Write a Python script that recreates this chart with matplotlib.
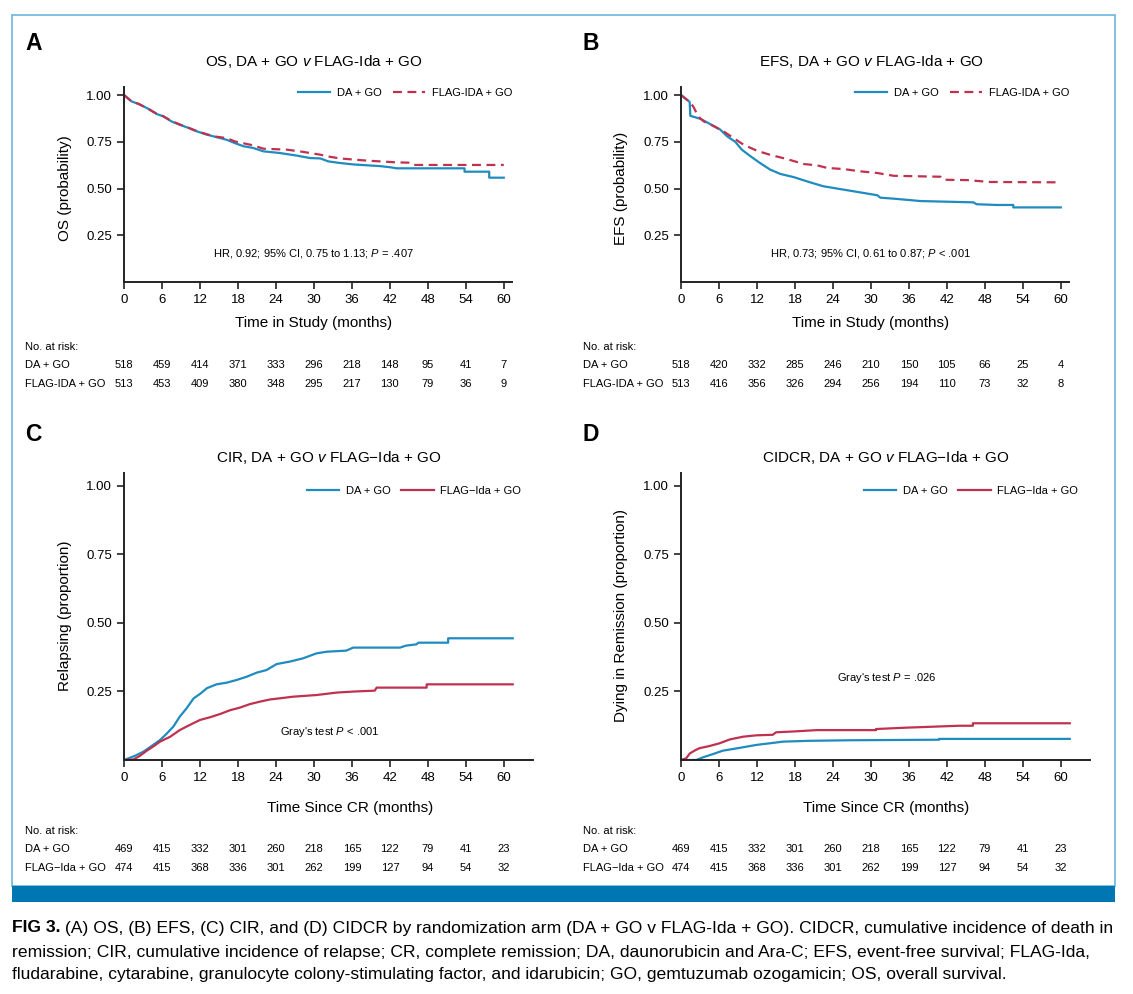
import matplotlib
matplotlib.use("Agg")
import matplotlib.pyplot as plt
from matplotlib.patches import Rectangle
from matplotlib.lines import Line2D
from matplotlib.transforms import blended_transform_factory

W, H = 1133, 994
BLUE = "#1f8bbf"
RED = "#c0314f"

plt.rcParams['font.family'] = ['Liberation Sans', 'DejaVu Sans']
plt.rcParams['mathtext.fontset'] = 'custom'
plt.rcParams['mathtext.rm'] = 'Liberation Sans'
plt.rcParams['mathtext.it'] = 'Liberation Sans:italic'

# ---- data (curve vertices: month, value) ----
months = [0, 6, 12, 18, 24, 30, 36, 42, 48, 54, 60]

# A: overall survival
os_da_t = [0, 1.2, 2.3, 3.05, 4.1, 5.2, 6.2, 7.5, 8.8, 10.2, 11.5, 13.1, 14.6, 16.2, 17.5, 18.9, 20.4, 22.0,
           24.6, 27.3, 29.4, 31.0, 32.3, 34, 36.2, 38, 40.4, 42, 43.1, 53.8, 53.8, 57.7, 57.7, 60]
os_da_s = [1.0, 0.966, 0.952, 0.94, 0.922, 0.898, 0.886, 0.859, 0.841, 0.824, 0.806, 0.788, 0.775, 0.761,
           0.743, 0.726, 0.717, 0.699, 0.69, 0.676, 0.663, 0.661, 0.645, 0.637, 0.629, 0.625, 0.620, 0.614,
           0.608, 0.608, 0.590, 0.590, 0.558, 0.558]
os_fl_t = [0, 1.2, 2.3, 3.05, 4.1, 5.2, 6.2, 7.5, 8.8, 10.2, 11.5, 13.1, 14.6, 16.2, 17.5, 20.4, 22.0, 25.7,
           28.3, 31, 32.5, 34.1, 37.3, 39, 41.5, 43, 45.2, 45.7, 60]
os_fl_s = [1.0, 0.966, 0.953, 0.94, 0.92, 0.899, 0.887, 0.861, 0.843, 0.825, 0.807, 0.79, 0.777, 0.77, 0.752,
           0.731, 0.713, 0.708, 0.696, 0.681, 0.670, 0.661, 0.652, 0.648, 0.643, 0.640, 0.638, 0.626, 0.626]

# B: event-free survival
efs_da_t = [0, 1.37, 1.47, 3.05, 4.6, 6.2, 7.3, 8.6, 9.6, 11, 12.5, 14.1, 15.7, 17.8, 20.4, 22.5, 25.7, 28.9,
            31, 31.5, 33.5, 36.2, 37.8, 46.2, 46.7, 49.9, 52.5, 52.5, 60]
efs_da_s = [1.0, 0.963, 0.889, 0.873, 0.845, 0.815, 0.779, 0.749, 0.708, 0.672, 0.636, 0.601, 0.578, 0.561,
            0.533, 0.512, 0.494, 0.476, 0.464, 0.451, 0.446, 0.438, 0.433, 0.426, 0.416, 0.412, 0.412, 0.399,
            0.399]
efs_fl_t = [0, 1.4, 2.0, 2.5, 3.0, 3.6, 5.2, 6.7, 8.3, 9.9, 12, 14.1, 16.7, 19.4, 21.5, 23.1, 25.7, 28.3, 31,
            33.6, 41, 41.5, 45.2, 48.8, 60]
efs_fl_s = [1.0, 0.963, 0.935, 0.90, 0.876, 0.859, 0.833, 0.806, 0.77, 0.734, 0.702, 0.68, 0.658, 0.631,
            0.624, 0.61, 0.604, 0.592, 0.583, 0.568, 0.563, 0.547, 0.545, 0.535, 0.533]

# C: cumulative incidence of relapse
cir_da_t = [0, 0.7, 1.7, 3.05, 4.6, 5.7, 6.7, 7.8, 8.8, 9.9, 11, 12, 13.1, 14.6, 16.2, 17.8, 19.4, 21, 22.5,
            24.1, 26.2, 28.3, 30.4, 32, 35.1, 36.2, 43.6, 44.5, 46.2, 46.5, 51.2, 51.2, 61.4]
cir_da_s = [0, 0.006, 0.015, 0.03, 0.055, 0.073, 0.095, 0.122, 0.158, 0.189, 0.225, 0.241, 0.262, 0.276,
            0.282, 0.292, 0.304, 0.319, 0.328, 0.350, 0.359, 0.371, 0.389, 0.395, 0.399, 0.410, 0.410, 0.417,
            0.422, 0.428, 0.428, 0.444, 0.444]
cir_fl_t = [0, 1.5, 2.5, 3.6, 4.6, 5.7, 7.3, 8.8, 10.4, 12, 13.6, 15.2, 16.8, 18.3, 19.9, 21.5, 23.1, 24.6,
            26.7, 30.4, 33.6, 36.5, 39.6, 39.9, 47.8, 47.8, 61.4]
cir_fl_s = [0, 0.002, 0.015, 0.034, 0.049, 0.067, 0.085, 0.109, 0.128, 0.146, 0.156, 0.168, 0.182, 0.191,
            0.204, 0.213, 0.221, 0.225, 0.231, 0.237, 0.246, 0.250, 0.253, 0.264, 0.264, 0.276, 0.276]

# D: cumulative incidence of death in remission
cidcr_da_t = [0, 2.4, 3.5, 5.1, 6.6, 8.7, 11.9, 15.1, 16.1, 20.3, 26.6, 40.8, 40.8, 61.4]
cidcr_da_s = [0, 0.0, 0.010, 0.022, 0.034, 0.042, 0.055, 0.064, 0.067, 0.070, 0.072, 0.074, 0.077, 0.077]
cidcr_fl_t = [0, 0.8, 1.4, 2.2, 2.9, 4.5, 6.1, 7.7, 9.8, 11.9, 14.5, 15.0, 17.7, 21.4, 30.8, 30.8, 35.6,
              44.0, 46.1, 46.1, 61.4]
cidcr_fl_s = [0, 0.006, 0.024, 0.035, 0.043, 0.051, 0.061, 0.075, 0.085, 0.090, 0.092, 0.101, 0.104, 0.109,
              0.109, 0.113, 0.118, 0.125, 0.125, 0.134, 0.134]

# numbers at risk
risk_a_da = [518, 459, 414, 371, 333, 296, 218, 148, 95, 41, 7]
risk_a_fl = [513, 453, 409, 380, 348, 295, 217, 130, 79, 36, 9]
risk_b_da = [518, 420, 332, 285, 246, 210, 150, 105, 66, 25, 4]
risk_b_fl = [513, 416, 356, 326, 294, 256, 194, 110, 73, 32, 8]
risk_cr_da = [469, 415, 332, 301, 260, 218, 165, 122, 79, 41, 23]
risk_cr_fl = [474, 415, 368, 336, 301, 262, 199, 127, 94, 54, 32]

yticks = [0.25, 0.50, 0.75, 1.00]
ytick_labels = ["0.25", "0.50", "0.75", "1.00"]

fig = plt.figure(figsize=(W / 100, H / 100), dpi=100)


def fx(x):
    return x / W


def fy(y):
    return 1 - y / H


def add_ax(left, top, right, bottom):
    return fig.add_axes([fx(left), fy(bottom), (right - left) / W, (bottom - top) / H])


def style_ax(ax, xmax, ymax):
    ax.set_xlim(0, xmax)
    ax.set_ylim(0, ymax)
    ax.set_xticks(months)
    ax.set_yticks(yticks)
    ax.set_yticklabels(ytick_labels)
    for s in ["top", "right"]:
        ax.spines[s].set_visible(False)
    for s in ["left", "bottom"]:
        ax.spines[s].set_linewidth(1.4)
        ax.spines[s].set_color("#222222")
    ax.tick_params(direction="out", length=5, width=1.2, labelsize=9.5, pad=3.5, color="#222222")
    ax.patch.set_alpha(0)


def risk_table(ax, top_y, label_x, names, rows):
    tr = blended_transform_factory(ax.transData, fig.transFigure)
    fig.text(fx(label_x), fy(top_y), "No. at risk:", fontsize=8, va="center", ha="left")
    for i, (name, vals) in enumerate(zip(names, rows)):
        yy = top_y + 18.5 * (i + 1)
        fig.text(fx(label_x), fy(yy), name, fontsize=8, va="center", ha="left")
        for m, v in zip(months, vals):
            ax.text(m, fy(yy), str(v), transform=tr, fontsize=8, ha="center", va="center")


def legend(ax, handles, labels, x, y):
    ax.legend(handles, labels, loc="center right", bbox_to_anchor=(x, y), ncol=2, frameon=False,
              fontsize=8, handlelength=2.9, handletextpad=0.6, columnspacing=1.0,
              borderpad=0, borderaxespad=0)


DASH = (0, (4, 2.5))

# ---- panel A ----
axA = add_ax(124, 87, 512, 282)
style_ax(axA, 61.3, 1.043)
axA.plot(os_da_t, os_da_s, color=BLUE, lw=1.6)
axA.plot(os_fl_t, os_fl_s, color=RED, lw=1.6, ls=DASH)
legend(axA, [Line2D([], [], color=BLUE, lw=1.6), Line2D([], [], color=RED, lw=1.6, ls=DASH)],
       ["DA + GO", "FLAG-IDA + GO"], 1.0, 0.969)
axA.text(30, 0.15, "HR, 0.92; 95% CI, 0.75 to 1.13; $P$ = .407", fontsize=8, ha="center", va="center")
fig.text(fx(314), fy(323), "Time in Study (months)", fontsize=11, ha="center", va="center")
fig.text(fx(65), fy(188), "OS (probability)", fontsize=11, rotation=90, ha="center", va="center")
fig.text(fx(314), fy(61), "OS, DA + GO $v$ FLAG-Ida + GO", fontsize=11, ha="center", va="center")
fig.text(fx(25), fy(44), "A", fontsize=16.5, fontweight="bold", ha="left", va="center")
risk_table(axA, 347, 25, ["DA + GO", "FLAG-IDA + GO"], [risk_a_da, risk_a_fl])

# ---- panel B ----
axB = add_ax(681, 87, 1069, 282)
style_ax(axB, 61.3, 1.043)
axB.plot(efs_da_t, efs_da_s, color=BLUE, lw=1.6)
axB.plot(efs_fl_t, efs_fl_s, color=RED, lw=1.6, ls=DASH)
legend(axB, [Line2D([], [], color=BLUE, lw=1.6), Line2D([], [], color=RED, lw=1.6, ls=DASH)],
       ["DA + GO", "FLAG-IDA + GO"], 1.0, 0.969)
axB.text(30, 0.15, "HR, 0.73; 95% CI, 0.61 to 0.87; $P$ < .001", fontsize=8, ha="center", va="center")
fig.text(fx(871), fy(323), "Time in Study (months)", fontsize=11, ha="center", va="center")
fig.text(fx(621), fy(188), "EFS (probability)", fontsize=11, rotation=90, ha="center", va="center")
fig.text(fx(871), fy(61), "EFS, DA + GO $v$ FLAG-Ida + GO", fontsize=11, ha="center", va="center")
fig.text(fx(583), fy(44), "B", fontsize=16.5, fontweight="bold", ha="left", va="center")
risk_table(axB, 347, 583, ["DA + GO", "FLAG-IDA + GO"], [risk_b_da, risk_b_fl])

# ---- panel C ----
axC = add_ax(124, 473, 533, 760)
style_ax(axC, 64.6, 1.047)
axC.plot(cir_da_t, cir_da_s, color=BLUE, lw=1.6)
axC.plot(cir_fl_t, cir_fl_s, color=RED, lw=1.6)
legend(axC, [Line2D([], [], color=BLUE, lw=1.6), Line2D([], [], color=RED, lw=1.6)],
       ["DA + GO", "FLAG\u2212Ida + GO"], 0.971, 0.937)
axC.text(32.4, 0.102, "Gray's test $P$ < .001", fontsize=8, ha="center", va="center")
fig.text(fx(350), fy(808), "Time Since CR (months)", fontsize=11, ha="center", va="center")
fig.text(fx(65), fy(616), "Relapsing (proportion)", fontsize=11, rotation=90, ha="center", va="center")
fig.text(fx(329), fy(458), "CIR, DA + GO $v$ FLAG\u2212Ida + GO", fontsize=11, ha="center", va="center")
fig.text(fx(25), fy(435), "C", fontsize=16.5, fontweight="bold", ha="left", va="center")
risk_table(axC, 831, 25, ["DA + GO", "FLAG\u2212Ida + GO"], [risk_cr_da, risk_cr_fl])

# ---- panel D ----
axD = add_ax(681, 473, 1090, 760)
style_ax(axD, 64.6, 1.047)
axD.plot(cidcr_da_t, cidcr_da_s, color=BLUE, lw=1.6)
axD.plot(cidcr_fl_t, cidcr_fl_s, color=RED, lw=1.6)
legend(axD, [Line2D([], [], color=BLUE, lw=1.6), Line2D([], [], color=RED, lw=1.6)],
       ["DA + GO", "FLAG\u2212Ida + GO"], 0.971, 0.937)
axD.text(32.4, 0.30, "Gray's test $P$ = .026", fontsize=8, ha="center", va="center")
fig.text(fx(886), fy(808), "Time Since CR (months)", fontsize=11, ha="center", va="center")
fig.text(fx(621), fy(616), "Dying in Remission (proportion)", fontsize=11, rotation=90, ha="center", va="center")
fig.text(fx(886), fy(458), "CIDCR, DA + GO $v$ FLAG\u2212Ida + GO", fontsize=11, ha="center", va="center")
fig.text(fx(583), fy(435), "D", fontsize=16.5, fontweight="bold", ha="left", va="center")
risk_table(axD, 831, 583, ["DA + GO", "FLAG\u2212Ida + GO"], [risk_cr_da, risk_cr_fl])

# frame and bar
fig.patches.append(Rectangle((fx(12), fy(886)), (1115 - 12) / W, (886 - 15) / H, transform=fig.transFigure,
                             fill=False, ec="#6cb4dc", lw=1.2))
fig.patches.append(Rectangle((fx(12), fy(902)), (1115 - 12) / W, 16 / H, transform=fig.transFigure,
                             fc="#0077b3", ec="none"))

# caption
CAP = 12.6
renderer = fig.canvas.get_renderer()
cap = fig.text(fx(12), fy(928), "FIG 3.", fontsize=CAP, fontweight="bold", ha="left", va="center")
bw = cap.get_window_extent(renderer).width
fig.text(fx(12 + bw), fy(928),
         " (A) OS, (B) EFS, (C) CIR, and (D) CIDCR by randomization arm (DA + GO v FLAG-Ida + GO). "
         "CIDCR, cumulative incidence of death in", fontsize=CAP, ha="left", va="center")
fig.text(fx(12), fy(952),
         "remission; CIR, cumulative incidence of relapse; CR, complete remission; DA, daunorubicin and "
         "Ara-C; EFS, event-free survival; FLAG-Ida,", fontsize=CAP, ha="left", va="center")
fig.text(fx(12), fy(975),
         "fludarabine, cytarabine, granulocyte colony-stimulating factor, and idarubicin; GO, gemtuzumab "
         "ozogamicin; OS, overall survival.", fontsize=CAP, ha="left", va="center")

fig.savefig("out.png", dpi=100)
